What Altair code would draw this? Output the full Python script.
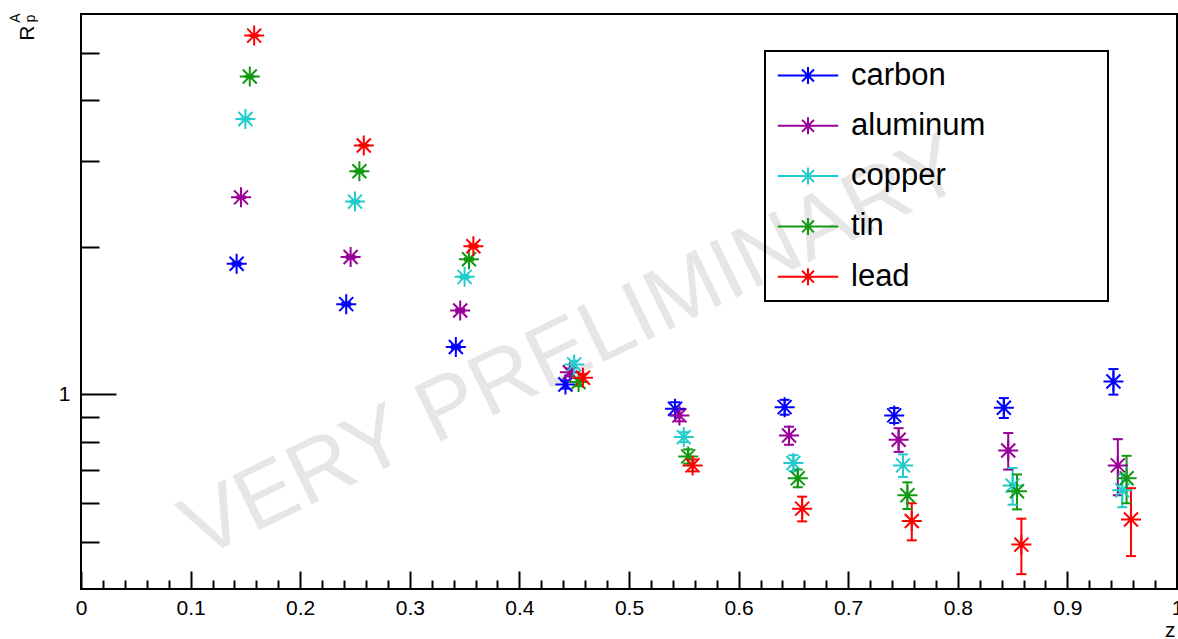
import altair as alt
import pandas as pd

# ---------------- data ----------------
materials = ["carbon", "aluminum", "copper", "tin", "lead"]
colors = ["#0000ff", "#990099", "#22cccc", "#119911", "#ff0000"]

z_carbon = [0.142, 0.242, 0.342, 0.442, 0.542, 0.642, 0.742, 0.842, 0.942]
z_aluminum = [0.146, 0.246, 0.346, 0.446, 0.546, 0.646, 0.746, 0.846, 0.946]
z_copper = [0.150, 0.250, 0.350, 0.450, 0.550, 0.650, 0.750, 0.850, 0.950]
z_tin = [0.154, 0.254, 0.354, 0.454, 0.554, 0.654, 0.754, 0.854, 0.954]
z_lead = [0.158, 0.258, 0.358, 0.458, 0.558, 0.658, 0.758, 0.858, 0.958]

r_carbon = [1.85, 1.53, 1.25, 1.048, 0.935, 0.942, 0.906, 0.939, 1.063]
r_aluminum = [2.53, 1.91, 1.485, 1.11, 0.906, 0.824, 0.808, 0.768, 0.716]
r_copper = [3.66, 2.48, 1.74, 1.152, 0.818, 0.724, 0.716, 0.651, 0.637]
r_tin = [4.47, 2.86, 1.89, 1.06, 0.747, 0.674, 0.622, 0.634, 0.674]
r_lead = [5.42, 3.23, 2.01, 1.082, 0.716, 0.584, 0.551, 0.493, 0.555]

e_carbon = [0.01, 0.01, 0.01, 0.02, 0.029, 0.033, 0.032, 0.044, 0.064]
e_aluminum = [0.01, 0.01, 0.01, 0.02, 0.025, 0.035, 0.045, 0.066, 0.094]
e_copper = [0.01, 0.01, 0.01, 0.02, 0.019, 0.027, 0.038, 0.056, 0.049]
e_tin = [0.01, 0.01, 0.01, 0.02, 0.025, 0.028, 0.039, 0.052, 0.075]
e_lead = [0.01, 0.01, 0.01, 0.02, 0.020, 0.034, 0.048, 0.064, 0.088]

x_label_values = [0, 0.1, 0.2, 0.3, 0.4, 0.5, 0.6, 0.7, 0.8, 0.9, 1.0]
x_tick_values = [round(i * 0.02, 2) for i in range(51)]
y_label_values = [1]
y_tick_values = [0.5, 0.6, 0.7, 0.8, 0.9, 1, 2, 3, 4, 5]

watermark = ["VERY PRELIMINARY"]
y_title = "R"
y_title_sup = ["A"]
y_title_sub = ["p"]

# ---------------- table ----------------
series = {
    "carbon": (z_carbon, r_carbon, e_carbon),
    "aluminum": (z_aluminum, r_aluminum, e_aluminum),
    "copper": (z_copper, r_copper, e_copper),
    "tin": (z_tin, r_tin, e_tin),
    "lead": (z_lead, r_lead, e_lead),
}
rows = []
for m in materials:
    zs, rs, es = series[m]
    for z, r, e in zip(zs, rs, es):
        rows.append({"material": m, "z": z, "r": r, "lo": r - e, "hi": r + e})
df = pd.DataFrame(rows)

W, H = 1096, 575
FONT = "Liberation Sans"
STAR = "M-1,0L1,0M0,-1L0,1M-0.7,-0.7L0.7,0.7M-0.7,0.7L0.7,-0.7"
LEG_STAR = "M-3.56,0L3.56,0M0,-1L0,1M-0.7,-0.7L0.7,0.7M-0.7,0.7L0.7,-0.7"

xscale = alt.Scale(domain=[0, 1], nice=False, zero=False)
yscale = alt.Scale(type="log", domain=[0.4, 6], nice=False)
cscale = alt.Scale(domain=materials, range=colors)

legend = alt.Legend(
    orient="none", legendX=684, legendY=37, direction="vertical",
    title="mmmmmmm", titleOrient="right", titleOpacity=0, titleFontSize=18.2,
    titlePadding=0, titleFont=FONT,
    symbolType=LEG_STAR, symbolSize=289, symbolStrokeWidth=2,
    symbolFillColor="transparent",
    symbolOffset=18.5, labelOffset=27.5, labelFontSize=31, labelFont=FONT,
    labelColor="black", labelLimit=600,
    padding=9, rowPadding=18.3, strokeColor="black")
color_enc = alt.Color("material:N", scale=cscale, sort=materials, legend=legend)

base = alt.Chart(df)

wm = alt.Chart(pd.DataFrame({"t": watermark})).mark_text(
    angle=334, fontSize=88, font=FONT, color="#e6e6e6", align="center", baseline="middle"
).encode(text="t:N", x=alt.value(492), y=alt.value(334))

sup = alt.Chart(pd.DataFrame({"t": y_title_sup})).mark_text(
    angle=270, fontSize=14, font=FONT, color="black", align="center", baseline="middle"
).encode(text="t:N", x=alt.value(-65), y=alt.value(4))
sub = alt.Chart(pd.DataFrame({"t": y_title_sub})).mark_text(
    angle=270, fontSize=14, font=FONT, color="black", align="center", baseline="middle"
).encode(text="t:N", x=alt.value(-50), y=alt.value(4.5))

bars = base.mark_rule(strokeWidth=2).encode(
    x=alt.X("z:Q", scale=xscale, axis=alt.Axis(
        orient="top", offset=-H, values=x_tick_values, labels=False, domain=False,
        grid=False, title=None, tickColor="black", tickWidth=2,
        tickSize={"condition": {"test": "abs(datum.value*10 - round(datum.value*10)) < 0.001", "value": 18}, "value": 9})),
    y=alt.Y("lo:Q", scale=yscale, axis=alt.Axis(
        orient="right", offset=-W, values=y_tick_values, labels=False, domain=False,
        grid=False, title=None, tickColor="black", tickWidth=2,
        tickSize={"condition": {"test": "datum.value == 1", "value": 35}, "value": 18})),
    y2="hi:Q",
    color=color_enc,
)

cap_lo = base.mark_rule(strokeWidth=2, xOffset=-5, x2Offset=5).encode(
    x=alt.X("z:Q", scale=xscale, axis=None), x2="z:Q",
    y=alt.Y("lo:Q", scale=yscale, axis=None),
    color=color_enc,
)
cap_hi = base.mark_rule(strokeWidth=2, xOffset=-5, x2Offset=5).encode(
    x=alt.X("z:Q", scale=xscale, axis=None), x2="z:Q",
    y=alt.Y("hi:Q", scale=yscale, axis=None),
    color=color_enc,
)

pts = base.mark_point(shape=STAR, size=400, filled=False, strokeWidth=2, opacity=1).encode(
    x=alt.X("z:Q", scale=xscale, axis=alt.Axis(
        orient="bottom", values=x_label_values, format=".1~f", ticks=False, domain=False,
        grid=False, labelFontSize=21, labelFont=FONT, labelColor="black", labelPadding=8,
        labelFlush=False, labelOverlap=False,
        title="z", titleFont=FONT, titleFontSize=21, titleFontWeight="normal", titleColor="black",
        titleX=1094, titleY=47, titleAlign="right", titleBaseline="alphabetic")),
    y=alt.Y("r:Q", scale=yscale, axis=alt.Axis(
        orient="left", values=y_label_values, ticks=False, domain=False, grid=False,
        labelFontSize=21, labelFont=FONT, labelColor="black", labelPadding=11,
        title=y_title, titleFont=FONT, titleFontSize=21, titleFontWeight="normal",
        titleColor="black", titleAngle=270, titleX=-48, titleY=11, titleAlign="right",
        titleBaseline="alphabetic")),
    color=color_enc,
)

dots = base.mark_circle(size=14, opacity=1).encode(
    x=alt.X("z:Q", scale=xscale, axis=None),
    y=alt.Y("r:Q", scale=yscale, axis=None),
    color=color_enc,
)

chart = alt.layer(wm, sup, sub, bars, cap_lo, cap_hi, pts, dots).properties(
    width=W, height=H,
    padding={"left": 81, "top": 14, "right": 1, "bottom": 50},
    autosize=alt.AutoSizeParams(type="none"),
    background="white",
).configure_view(stroke="black", strokeWidth=2).configure_legend(strokeWidth=2)

chart.save("out.html", embed_options={"renderer": "svg", "actions": False})
